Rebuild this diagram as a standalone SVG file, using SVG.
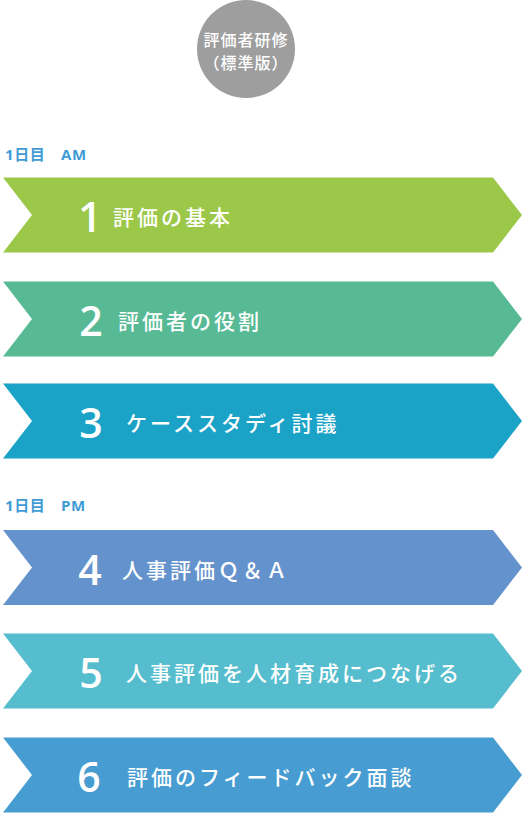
<svg xmlns="http://www.w3.org/2000/svg" width="522" height="813" viewBox="0 0 522 813">
<style>
.lbl{font-family:"Open Sans","Noto Sans CJK JP",sans-serif;font-weight:700;font-size:15px;fill:#3E9BD4;letter-spacing:0.6px}
.num{font-family:"Open Sans","Liberation Sans",sans-serif;font-weight:600;font-size:41px;fill:#fff;text-anchor:middle}
.txt{font-family:"Noto Sans CJK JP",sans-serif;font-weight:500;font-size:21px;fill:#fff;letter-spacing:3px}
.ct{font-family:"Noto Sans CJK JP",sans-serif;font-weight:500;font-size:16px;fill:#fff;text-anchor:middle;letter-spacing:1px}
</style>
<g id="title">
<circle cx="246" cy="49" r="49" fill="#9E9E9E"/>
<text class="ct" x="246" y="46">評価者研修</text>
<text class="ct" x="246" y="69">（標準版）</text>
</g>
<text class="lbl" x="5" y="160">1日目　AM</text>
<text class="lbl" x="5" y="511">1日目　PM</text>
<g id="step1">
<path d="M3,177.5 L493,177.5 L522,215 L493,252.5 L3,252.5 L32,215 Z" fill="#9CC84A"/>
<text class="num" x="90" y="232">1</text>
<text class="txt" x="113" y="225">評価の基本</text>
</g>
<g id="step2">
<path d="M3,281.5 L493,281.5 L522,319 L493,356.5 L3,356.5 L32,319 Z" fill="#57BA95"/>
<text class="num" x="91" y="336">2</text>
<text class="txt" x="118" y="329">評価者の役割</text>
</g>
<g id="step3">
<path d="M3,383.5 L493,383.5 L522,421 L493,458.5 L3,458.5 L32,421 Z" fill="#1AA2C7"/>
<text class="num" x="91" y="438">3</text>
<text class="txt" x="126" y="431">ケーススタディ討議</text>
</g>
<g id="step4">
<path d="M3,530 L493,530 L522,567.5 L493,605 L3,605 L32,567.5 Z" fill="#6492CC"/>
<text class="num" x="90" y="584.5">4</text>
<text class="txt" x="122" y="577.5">人事評価Ｑ＆Ａ</text>
</g>
<g id="step5">
<path d="M3,633.5 L493,633.5 L522,671 L493,708.5 L3,708.5 L32,671 Z" fill="#55BDCD"/>
<text class="num" x="91" y="688">5</text>
<text class="txt" x="126" y="681">人事評価を人材育成につなげる</text>
</g>
<g id="step6">
<path d="M3,737.5 L493,737.5 L522,775 L493,812.5 L3,812.5 L32,775 Z" fill="#479CD1"/>
<text class="num" x="89" y="792">6</text>
<text class="txt" x="127" y="785">評価のフィードバック面談</text>
</g>
<g id="connectors"/>
</svg>
